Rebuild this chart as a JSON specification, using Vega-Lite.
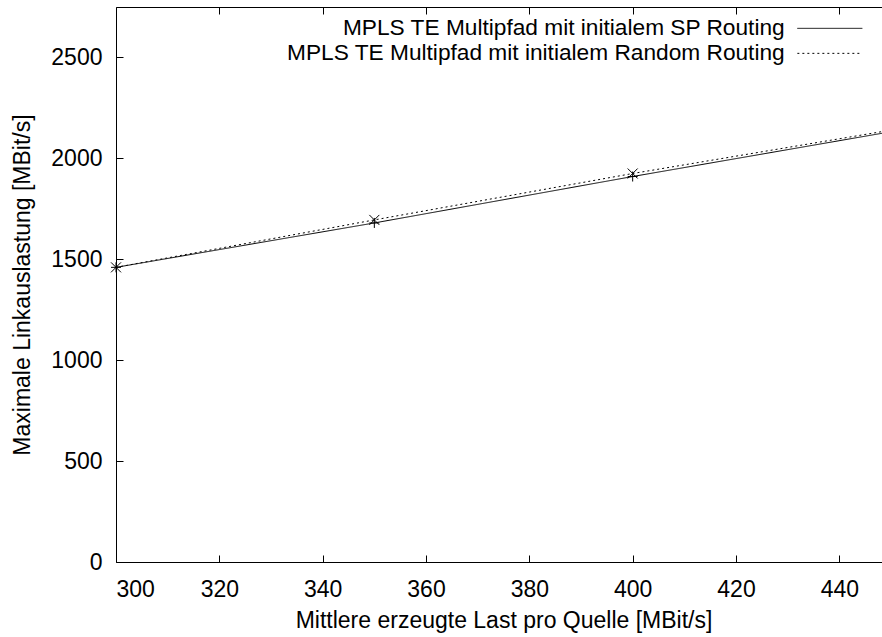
{
  "$schema": "https://vega.github.io/schema/vega-lite/v6.json",
  "width": 775,
  "height": 555,
  "autosize": {"type": "none"},
  "padding": {"left": 116, "top": 7, "right": 0, "bottom": 75},
  "background": "white",
  "config": {
    "font": "Liberation Sans",
    "view": {"stroke": "black", "strokeWidth": 1},
    "axis": {
      "grid": false,
      "domain": false,
      "tickColor": "black",
      "tickSize": 7,
      "tickWidth": 1,
      "labelColor": "black",
      "titleColor": "black",
      "labelFontSize": 23,
      "titleFontSize": 23,
      "titleFontWeight": "normal",
      "labelFont": "Liberation Sans",
      "titleFont": "Liberation Sans"
    }
  },
  "data": {
    "values": [
      {"last": 300, "auslastung": 1460, "routing": "MPLS TE Multipfad mit initialem SP Routing"},
      {"last": 350, "auslastung": 1680, "routing": "MPLS TE Multipfad mit initialem SP Routing"},
      {"last": 400, "auslastung": 1910, "routing": "MPLS TE Multipfad mit initialem SP Routing"},
      {"last": 450, "auslastung": 2132, "routing": "MPLS TE Multipfad mit initialem SP Routing"},
      {"last": 300, "auslastung": 1460, "routing": "MPLS TE Multipfad mit initialem Random Routing"},
      {"last": 350, "auslastung": 1695, "routing": "MPLS TE Multipfad mit initialem Random Routing"},
      {"last": 400, "auslastung": 1925, "routing": "MPLS TE Multipfad mit initialem Random Routing"},
      {"last": 450, "auslastung": 2140, "routing": "MPLS TE Multipfad mit initialem Random Routing"}
    ]
  },
  "layer": [
    {
      "mark": {"type": "line", "color": "black", "strokeWidth": 1},
      "encoding": {
        "x": {
          "field": "last", "type": "quantitative",
          "scale": {"domain": [300, 450], "nice": false, "zero": false},
          "axis": {
            "orient": "bottom",
            "offset": -7,
            "values": [300, 320, 340, 360, 380, 400, 420, 440],
            "format": "d",
            "title": "Mittlere erzeugte Last pro Quelle [MBit/s]",
            "labelPadding": 16,
            "titlePadding": 8
          }
        },
        "y": {
          "field": "auslastung", "type": "quantitative",
          "scale": {"domain": [0, 2750], "nice": false},
          "axis": {
            "orient": "left",
            "offset": -7,
            "values": [0, 500, 1000, 1500, 2000, 2500],
            "format": "d",
            "title": "Maximale Linkauslastung [MBit/s]",
            "labelPadding": 14,
            "titlePadding": 16
          }
        },
        "strokeDash": {
          "field": "routing", "type": "nominal",
          "scale": {
            "domain": ["MPLS TE Multipfad mit initialem SP Routing", "MPLS TE Multipfad mit initialem Random Routing"],
            "range": [[1, 0], [2, 3]]
          },
          "legend": {
            "orient": "none",
            "legendX": 670,
            "legendY": 10,
            "title": null,
            "padding": 0,
            "symbolType": "M0,0L13,0",
            "symbolSize": 100,
            "symbolStrokeWidth": 1,
            "symbolStrokeColor": "black",
            "labelAlign": "right",
            "labelOffset": -24,
            "labelFontSize": 22.7,
            "labelColor": "black",
            "labelLimit": 0,
            "rowPadding": 1
          }
        }
      }
    },
    {
      "mark": {"type": "point", "filled": false, "color": "black", "strokeWidth": 1, "size": 100, "opacity": 1},
      "encoding": {
        "x": {
          "field": "last", "type": "quantitative",
          "scale": {"domain": [300, 450], "nice": false, "zero": false},
          "axis": {"orient": "top", "offset": -7, "values": [300, 320, 340, 360, 380, 400, 420, 440], "labels": false, "title": null}
        },
        "y": {
          "field": "auslastung", "type": "quantitative",
          "scale": {"domain": [0, 2750], "nice": false},
          "axis": {"orient": "right", "offset": -7, "values": [0, 500, 1000, 1500, 2000, 2500], "labels": false, "title": null}
        },
        "shape": {
          "field": "routing", "type": "nominal",
          "scale": {
            "domain": ["MPLS TE Multipfad mit initialem SP Routing", "MPLS TE Multipfad mit initialem Random Routing"],
            "range": ["M-1,0L1,0M0,-1L0,1", "M-1,-1L1,1M-1,1L1,-1"]
          },
          "legend": null
        }
      }
    }
  ],
  "resolve": {
    "scale": {"x": "independent", "y": "independent"},
    "axis": {"x": "independent", "y": "independent"},
    "legend": {"shape": "independent", "strokeDash": "independent"}
  }
}
